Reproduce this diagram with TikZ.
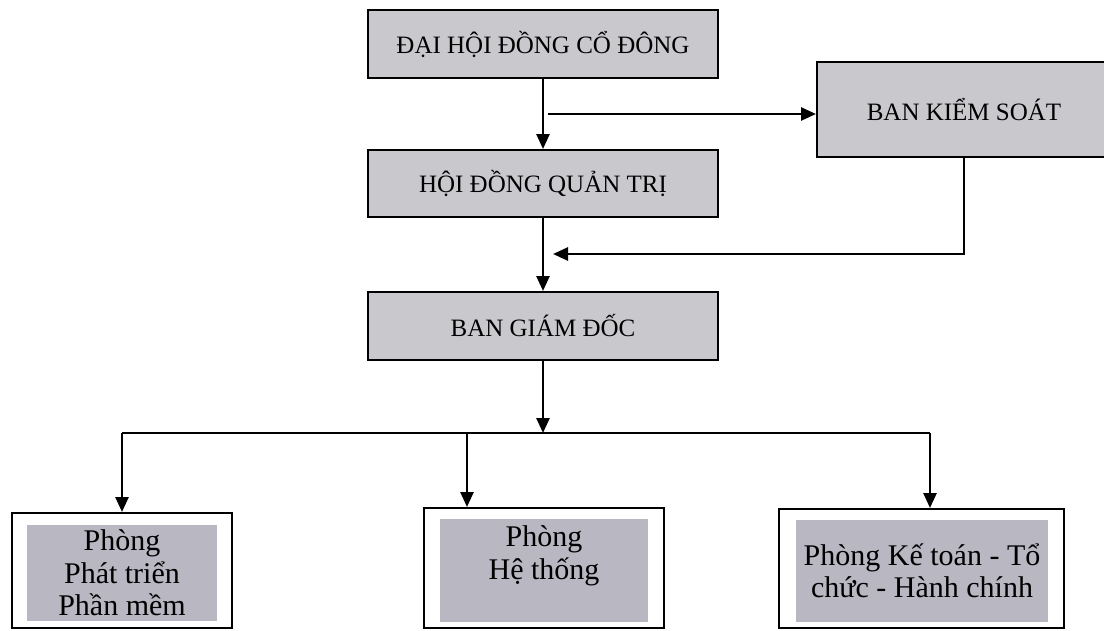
\documentclass[tikz,border=0pt]{standalone}
\usepackage{fontspec}
\setmainfont{Liberation Serif}
\usetikzlibrary{arrows.meta}
\definecolor{boxgray}{RGB}{201,201,205}
\definecolor{phonggray}{RGB}{184,183,194}

\begin{document}
\begin{tikzpicture}[x=1pt,y=-1pt,
		hop/.style={draw,line width=2pt,fill=boxgray,inner sep=0pt,font=\fontsize{25}{28}\selectfont},
		khung/.style={draw,line width=2pt,fill=white,inner sep=0pt},
		nen/.style={fill=phonggray,inner sep=0pt,align=center,font=\fontsize{30}{32.5}\selectfont},
		muiten/.style={line width=2.6pt,-{Triangle[length=15pt,width=13pt]}}]
			\useasboundingbox (0,0) rectangle (1104,630);
			\clip (0,0) rectangle (1104,630);

			% cac ban lanh dao
			\node[hop,minimum width=350,minimum height=68] (daihoi) at (543,44) {ĐẠI HỘI ĐỒNG CỔ ĐÔNG};
			\node[hop,minimum width=350,minimum height=67] (hdqt) at (543,183.5) {HỘI ĐỒNG QUẢN TRỊ};
			\node[hop,minimum width=350,minimum height=68] (bgd) at (543,326) {BAN GIÁM ĐỐC};
			\node[hop,minimum width=294,minimum height=95] (bks) at (964,109.5) {BAN KIỂM SOÁT};

			% cac phong
			\node[khung,minimum width=220,minimum height=115] (ppt) at (122,570.5) {};
			\node[nen,minimum width=190,minimum height=96] (ppt nen) at (122,573) {Phòng\\Phát triển\\Phần mềm};

			\node[khung,minimum width=240,minimum height=120] (pht) at (544,568) {};
			\node[nen,minimum width=208,minimum height=103] (pht nen) at (544,570.5) {};
			\node[nen,fill=none,anchor=north,yshift=-7pt] (pht chu) at (pht nen.north) {Phòng\\Hệ thống};

			\node[khung,minimum width=285,minimum height=119] (pkt) at (921.5,568.5) {};
			\node[nen,minimum width=252,minimum height=102] (pkt nen) at (922,571) {Phòng Kế toán - Tổ\\chức - Hành chính};

			% mui ten
			\coordinate (re) at (548,114);
			\coordinate (ve) at (553,254);
			\coordinate (nhanh) at (543,433);
			\coordinate (nhanh a) at (122,433);
			\coordinate (nhanh b) at (467,433);
			\coordinate (nhanh c) at (930,433);

			\draw[muiten] (daihoi) -- (hdqt);
			\draw[muiten] (re) -- (re -| bks.west);
			\draw[muiten] (hdqt) -- (bgd);
			\draw[muiten] (bks.south) |- (ve);
			\draw[muiten] (bgd) -- (nhanh);
			\draw[line width=2.6pt] (nhanh a) -- (nhanh c);
			\draw[muiten] (nhanh a) -- (ppt.north);
			\draw[muiten] (nhanh b) -- (nhanh b |- pht.north);
			\draw[muiten] (nhanh c) -- (nhanh c |- pkt.north);
		\end{tikzpicture}
\end{document}
